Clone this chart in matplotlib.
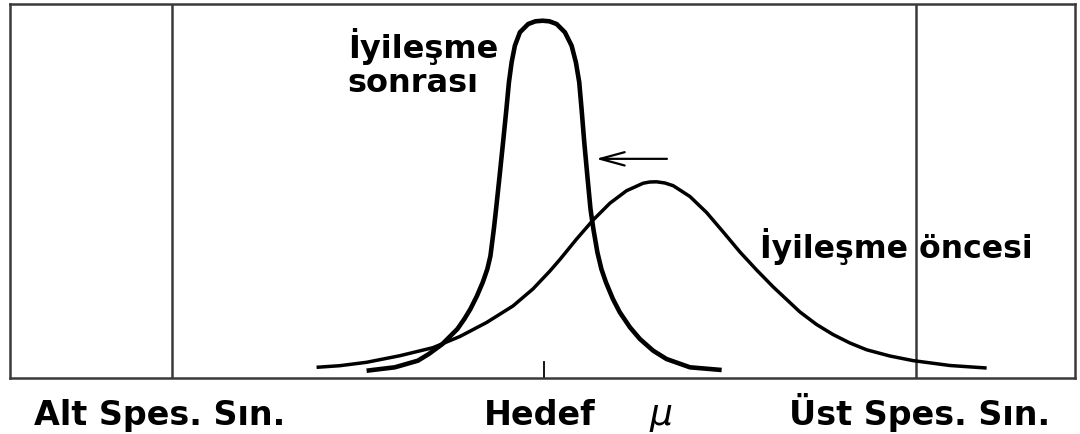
import matplotlib.pyplot as plt
import matplotlib.transforms as mtransforms

# process scale: target = 0, spec limits at -4 / +4
lsl, target, usl = -4.0, 0.0, 4.0
mu_before = 1.258

# distribution after improvement (narrow, centred on target)
after_x = [-1.906, -1.602, -1.355, -1.237, -1.091, -0.930, -0.855, -0.790,
           -0.720, -0.656, -0.608, -0.575, -0.538, -0.514, -0.476, -0.439,
           -0.403, -0.376, -0.347, -0.312, -0.258, -0.169, -0.091, -0.014,
           0.059, 0.137, 0.226, 0.298, 0.344, 0.380, 0.405, 0.434, 0.467,
           0.501, 0.532, 0.575, 0.618, 0.667, 0.742, 0.816, 0.925, 1.032,
           1.175, 1.318, 1.570, 1.911]
after_y = [0.0195, 0.0286, 0.0463, 0.0642, 0.0909, 0.1310, 0.1578, 0.1845,
           0.2193, 0.2567, 0.2914, 0.3262, 0.3984, 0.4519, 0.5409, 0.6302,
           0.7193, 0.7906, 0.8441, 0.8885, 0.9243, 0.9465, 0.9537, 0.9553,
           0.9537, 0.9465, 0.9243, 0.8885, 0.8441, 0.7906, 0.7193, 0.6302,
           0.5409, 0.4519, 0.3984, 0.3361, 0.2914, 0.2559, 0.2112, 0.1757,
           0.1356, 0.1043, 0.0730, 0.0508, 0.0286, 0.0214]

# distribution before improvement (wide, shifted towards the upper limit)
before_x = [-2.444, -2.194, -1.906, -1.548, -1.194, -0.903, -0.616, -0.333,
            -0.118, 0.065, 0.172, 0.352, 0.530, 0.710, 0.889, 1.068, 1.140,
            1.212, 1.301, 1.390, 1.570, 1.749, 1.928, 2.108, 2.287, 2.466,
            2.753, 2.932, 3.108, 3.290, 3.470, 3.720, 3.968, 4.366, 4.760]
before_y = [0.0286, 0.0329, 0.0420, 0.0596, 0.0810, 0.1110, 0.1484, 0.1925,
            0.2380, 0.2861, 0.3168, 0.3717, 0.4227, 0.4674, 0.5008, 0.5209,
            0.5241, 0.5246, 0.5214, 0.5142, 0.4853, 0.4425, 0.3904, 0.3369,
            0.2888, 0.2433, 0.1765, 0.1430, 0.1163, 0.0936, 0.0754, 0.0588,
            0.0465, 0.0334, 0.0267]

bottom_labels = ["Alt Spes. Sın.", "Hedef", "Üst Spes. Sın."]
bottom_label_x = [-4.135, -0.043, 4.043]

frame_color = "#3a3a3a"

fig = plt.figure(figsize=(10.8, 4.35), dpi=100)
ax = fig.add_axes([10 / 1080, 56 / 435, 1065 / 1080, 374 / 435])
ax.set_xlim(-5.74, 5.71)
ax.set_ylim(0, 1)
ax.set_xticks([])
ax.set_yticks([])
for sp in ax.spines.values():
    sp.set_color(frame_color)
    sp.set_linewidth(1.8)

# spec limits and target mark
ax.axvline(lsl, color=frame_color, lw=1.8)
ax.axvline(usl, color=frame_color, lw=1.8)
ax.axvline(target, ymin=0, ymax=0.043, color="black", lw=1.3)

ax.plot(before_x, before_y, color="black", lw=2.5,
        solid_capstyle="butt", solid_joinstyle="round")
ax.plot(after_x, after_y, color="black", lw=3.3,
        solid_capstyle="butt", solid_joinstyle="round")

# shift arrow
ax.annotate("", xy=(0.56, 0.586), xytext=(1.323, 0.586),
            arrowprops=dict(arrowstyle="->,head_length=1.1,head_width=0.3",
                            color="black", lw=1.6, mutation_scale=16,
                            shrinkA=0, shrinkB=0))

font = "DejaVu Sans"
ax.text(-2.108, 0.857, "İyileşme", fontsize=23, fontweight="bold",
        family=font, ha="left", va="baseline")
ax.text(-2.108, 0.768, "sonrası", fontsize=23, fontweight="bold",
        family=font, ha="left", va="baseline")
ax.text(2.323, 0.3235, "İyileşme öncesi", fontsize=22.7, fontweight="bold",
        family=font, ha="left", va="baseline")

trans = mtransforms.blended_transform_factory(ax.transData, ax.transAxes)
for lbl, xpos in zip(bottom_labels, bottom_label_x):
    ax.text(xpos, -0.124, lbl, transform=trans, fontsize=24,
            fontweight="bold", family=font, ha="center", va="baseline")
ax.text(mu_before, -0.124, r"$\mu$", transform=trans, fontsize=26,
        ha="center", va="baseline")

fig.savefig("out.png", dpi=100)
